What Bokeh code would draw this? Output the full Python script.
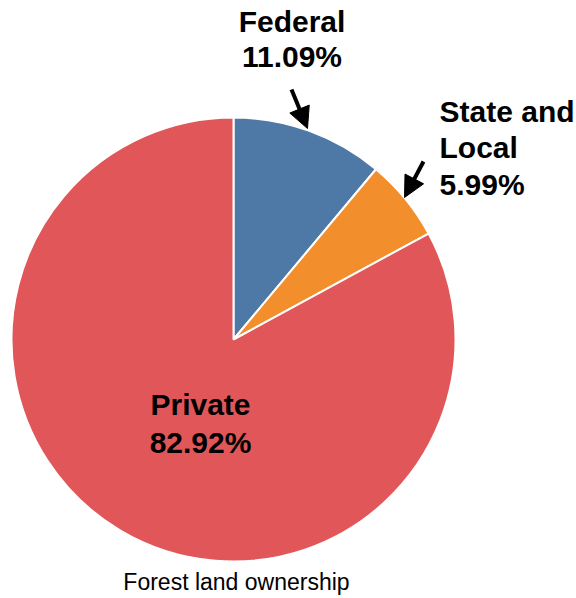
from bokeh.plotting import figure
from bokeh.models import Range1d, Arrow, NormalHead, ColumnDataSource
from bokeh.core.properties import value
from bokeh.embed import file_html
from bokeh.resources import INLINE
import math

# ---- data ----
categories = ["Federal", "State and Local", "Private"]
shares = [11.09, 5.99, 82.92]
colors = ["#4e79a7", "#f28e2b", "#e15759"]
title_text = "Forest land ownership"

W, H = 576, 598
TXT_OFF = 11  # compensate renderer baseline offset
def py(y):  # page y -> data y
    return H - y
def px(x):
    return x

p = figure(width=W, height=H, output_backend="svg", toolbar_location=None,
           x_range=Range1d(0, W), y_range=Range1d(0, H), min_border=0)
p.axis.visible = False
p.grid.visible = False
p.outline_line_color = None
p.background_fill_color = "white"
p.border_fill_color = "white"

# wedges: start at top, clockwise
starts, ends = [], []
acc = 0.0
for s in shares:
    a0 = math.pi / 2 - 2 * math.pi * acc / 100.0
    acc += s
    a1 = math.pi / 2 - 2 * math.pi * acc / 100.0
    starts.append(a0)
    ends.append(a1)

src = ColumnDataSource(dict(cat=categories, share=shares, color=colors,
                            start=starts, end=ends))
cx, cy, r = px(233), py(339), 222
p.wedge(x=cx, y=cy, radius=r, start_angle="start", end_angle="end",
        direction="clock", fill_color="color", line_color="white",
        line_width=2, source=src)

# labels (lines per category)
label_lines = {
    "Federal": ["Federal", "11.09%"],
    "State and Local": ["State and", "Local", "5.99%"],
    "Private": ["Private", "82.92%"],
}
label_pos = {
    "Federal": (291.5, [32, 67], "center"),
    "State and Local": (439, [122, 158, 195], "left"),
    "Private": (200, [415, 453], "center"),
}
for cat, s in zip(categories, shares):
    x0, baselines, align = label_pos[cat]
    lines = label_lines[cat][:-1] + ["%.2f%%" % s]
    p.text(x=[px(x0)] * len(lines), y=[py(b - TXT_OFF) for b in baselines], text=lines,
           text_font=value("Liberation Sans"), text_font_style="bold",
           text_font_size="30px", text_color="#000000",
           text_align=align, text_baseline="alphabetic")

# arrows
arrows = [((291, 89), (307, 128)), ((423, 161), (404, 197))]
for (x0, y0), (x1, y1) in arrows:
    p.add_layout(Arrow(x_start=px(x0), y_start=py(y0), x_end=px(x1), y_end=py(y1),
                       line_width=4, line_color="#000000",
                       end=NormalHead(size=21, fill_color="#000000",
                                      line_color="#000000", line_width=1)))

# title at bottom
p.text(x=[px(236)], y=[py(592 - TXT_OFF)], text=[title_text],
       text_font=value("Liberation Sans"), text_font_size="23px",
       text_color="#000000", text_align="center", text_baseline="alphabetic")

open("out.html", "w").write(file_html(p, INLINE))
